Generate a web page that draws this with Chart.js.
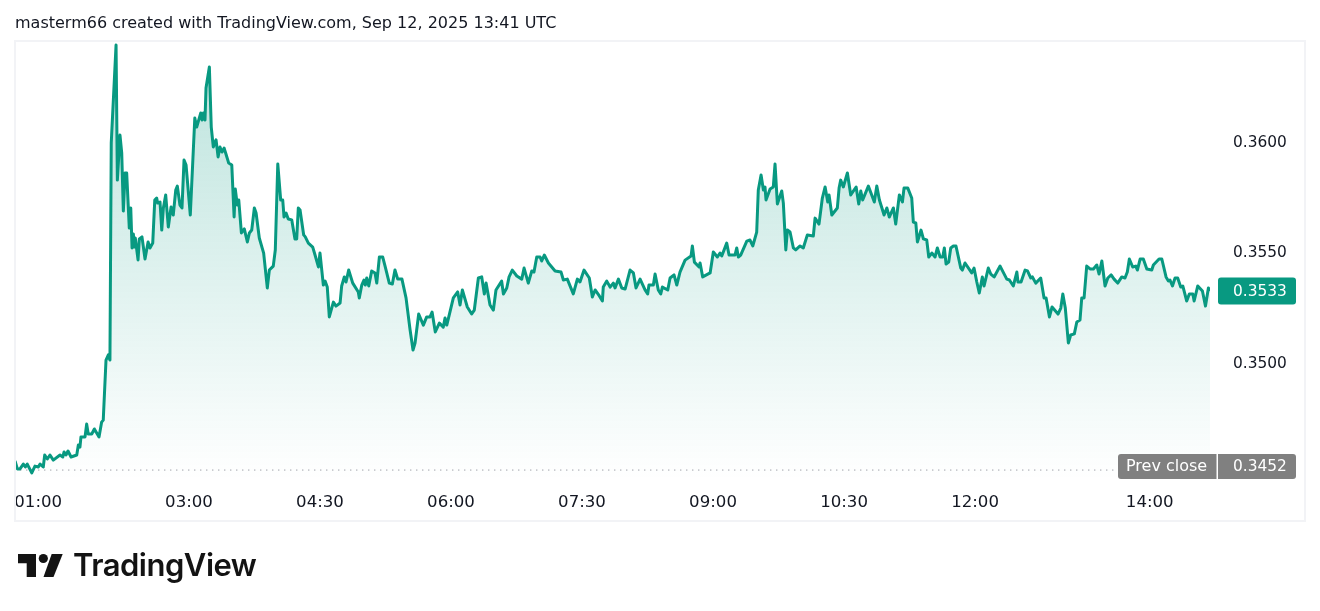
<!DOCTYPE html>
<html><head><meta charset="utf-8"><title>TradingView chart</title>
<script src="https://cdn.jsdelivr.net/npm/chart.js@4/dist/chart.umd.min.js"></script>
<style>
html,body{margin:0;padding:0;background:#fff;overflow:hidden;width:1320px;height:611px}
#c{position:absolute;left:0;top:0}
#head{position:absolute;left:15px;top:13px;font:16px "DejaVu Sans";color:#131722;white-space:nowrap}
#frame{position:absolute;left:14px;top:40px;width:1288px;height:478px;border:2px solid #f2f3f6;pointer-events:none}
#logo{position:absolute;left:0;top:540px}
#brand{position:absolute;left:73px;top:546px;font:600 31px Inter;letter-spacing:-.5px;color:#131313;white-space:nowrap}
</style></head><body>
<canvas id="c" width="1320" height="611"></canvas>
<div id="frame"></div>
<div id="head">masterm66 created with TradingView.com, Sep 12, 2025 13:41 UTC</div>
<svg id="logo" width="70" height="45" viewBox="0 540 70 45"><path fill="#131313" d="M18 554H36V577H26.7V563.3H18Z"/><circle fill="#131313" cx="43.3" cy="558.5" r="4.6"/><path fill="#131313" d="M51.7 554H62.7L53.5 577H43.5Z"/></svg>
<div id="brand">TradingView</div>
<script>
const minutes=[60.5,62.1,63.9,66.2,67.6,68.9,72.0,74.2,76.5,77.7,79.9,80.9,82.7,84.5,86.8,91.4,93.3,94.2,95.5,96.9,99.0,102.9,104.0,105.1,105.8,108.6,109.7,110.8,113.2,115.0,118.2,120.0,121.1,123.0,124.6,125.7,126.6,129.9,130.8,132.6,133.8,134.9,136.1,137.2,139.0,140.0,140.9,141.8,142.4,143.1,145.0,145.9,147.7,149.8,151.9,153.2,155.1,156.5,157.8,158.5,160.1,161.3,162.4,164.0,165.8,167.7,169.2,170.9,172.0,173.8,175.2,176.6,178.0,180.9,184.0,185.3,188.1,189.0,189.9,191.0,191.7,194.0,195.3,196.7,198.6,200.0,201.3,202.7,204.1,205.4,207.3,209.4,211.0,211.8,213.2,214.2,216.0,218.0,220.1,221.5,223.1,224.9,226.1,228.3,231.3,233.8,235.2,237.9,239.3,241.0,243.0,244.4,245.3,246.7,248.2,250.6,252.8,254.0,255.1,256.3,258.8,259.9,262.0,265.0,266.6,268.9,270.0,272.3,273.5,275.0,276.4,279.2,281.0,283.8,284.9,286.7,287.9,289.7,292.5,296.3,297.0,298.7,300.2,301.1,302.1,303.5,305.5,307.8,309.0,310.8,313.1,314.7,317.6,319.7,321.5,323.4,326.3,329.1,331.9,333.9,335.3,337.8,341.0,343.3,345.6,347.0,349.2,352.0,354.7,355.9,357.1,358.8,361.6,364.6,366.2,367.8,371.2,374.2,376.0,378.8,381.1,382.9,384.1,386.8,389.1,390.9,394.8,396.0,398.3,399.9,402.1,405.2,408.6,410.2,413.1,415.5,417.0,418.9,421.2,422.3,424.1,426.9,431.5,435.6,437.2,439.9,444.0,446.8,448.6,451.4,455.0,457.1,459.0,461.9,464.0,464.6,467.0,469.3,471.5,472.7,475.0,477.3,479.6,483.0,485.3,487.1,489.9,493.3,495.1,496.0,499.0,500.2,502.4,504.1,505.2,508.9,510.5,513.2,515.1,517.3,520.8,524.9,525.8,527.2,530.4,531.1,532.9,538.0,540.2,543.0,544.8,546.0,549.4,551.0,555.1,556.3,557.4,559.0,563.2,565.4,567.3,570.0,571.1,573.0,574.6,575.7,576.4,579.2,581.4,582.6,583.1,584.2,587.2,588.3,590.0,591.1,592.9,595.2,596.8,599.8,602.0,604.8,608.9,610.1,612.8,615.1,617.0,618.8,619.7,621.6,625.4,626.6,627.7,629.5,632.3,634.6,638.3,640.1,641.5,642.8,646.7,650.8,652.5,654.3,657.5,659.4,661.1,663.9,665.5,668.0,670.1,671.2,673.8,676.5,677.6,679.3,680.4,682.9,684.5,686.8,688.2,690.3,692.5,694.1,696.0,697.8,698.9,700.1,701.9,703.3,705.1,706.9,710.2,711.3,713.1,717.7,719.3,721.2,722.9,725.0,726.2,729.1,730.8,733.1,737.2,741.8,743.6,746.3,748.7,749.5,751.6,754.4,756.0,758.3,759.4,761.7,765.1,767.4,768.8,771.1,772.9,777.0,778.9,780.3,782.0,784.1,785.7,788.2,789.9,792.1,793.3,794.9,796.7,799.0,801.3,803.6,805.2,807.1,809.3,811.2,813.5,815.5,818.0,820.8,823.0,824.6,826.0,828.3,830.4,831.5,833.4,835.6,838.0,841.4,842.5,846.4,848.3,851.2,852.8,853.9,855.6,857.4,859.2,861.3,862.7,865.4,867.2,869.6,870.5,873.0,876.2,878.3,880.3,881.4];
const prices=[.34561,.34525,.34525,.34547,.34534,.34547,.34507,.34538,.34534,.34547,.34534,.34588,.34570,.34588,.34565,.34588,.34579,.34602,.34588,.34606,.34579,.34588,.34633,.34624,.34670,.34670,.34728,.34683,.34683,.34706,.34670,.34737,.34746,.35018,.35041,.35018,.36000,.36443,.35832,.36036,.35955,.35692,.35864,.35864,.35615,.35706,.35525,.35588,.35529,.35570,.35471,.35566,.35575,.35475,.35552,.35525,.35547,.35742,.35751,.35728,.35733,.35606,.35706,.35765,.35620,.35710,.35674,.35787,.35805,.35719,.35706,.35923,.35900,.35674,.36113,.36072,.36136,.36104,.36136,.36104,.36249,.36344,.36072,.35982,.36014,.35937,.35982,.35959,.35977,.35950,.35909,.35900,.35665,.35792,.35719,.35742,.35593,.35611,.35552,.35593,.35606,.35706,.35683,.35570,.35502,.35344,.35425,.35443,.35516,.35905,.35742,.35742,.35665,.35683,.35656,.35652,.35566,.35566,.35706,.35697,.35584,.35575,.35547,.35529,.35493,.35439,.35502,.35357,.35375,.35348,.35213,.35280,.35262,.35276,.35353,.35394,.35371,.35425,.35366,.35326,.35299,.35357,.35380,.35357,.35389,.35353,.35421,.35412,.35366,.35484,.35484,.35443,.35366,.35362,.35425,.35384,.35384,.35299,.35154,.35063,.35095,.35226,.35176,.35213,.35213,.35235,.35145,.35185,.35167,.35208,.35176,.35222,.35299,.35326,.35267,.35335,.35258,.35226,.35244,.35389,.35394,.35317,.35366,.35267,.35244,.35335,.35375,.35317,.35344,.35394,.35425,.35398,.35384,.35434,.35366,.35421,.35416,.35484,.35484,.35466,.35493,.35457,.35421,.35416,.35380,.35384,.35317,.35384,.35371,.35425,.35389,.35303,.35335,.35308,.35285,.35348,.35375,.35348,.35366,.35344,.35384,.35344,.35339,.35425,.35412,.35344,.35384,.35335,.35317,.35357,.35357,.35407,.35335,.35317,.35348,.35335,.35389,.35403,.35357,.35416,.35470,.35489,.35534,.35461,.35439,.35457,.35394,.35412,.35507,.35484,.35502,.35489,.35547,.35493,.35493,.35525,.35484,.35493,.35556,.35561,.35534,.35597,.35787,.35855,.35787,.35801,.35742,.35792,.35801,.35905,.35905,.35724,.35783,.35728,.35516,.35606,.35597,.35525,.35516,.35534,.35525,.35584,.35579,.35660,.35633,.35751,.35801,.35733,.35765,.35674,.35706,.35796,.35832,.35801,.35864,.35765,.35801,.35724,.35783,.35742,.35805,.35733,.35805,.35742,.35674,.35706,.35665,.35706,.35633,.35765,.35733,.35796,.35796,.35751,.35642,.35638,.35552,.35606,.35566,.35561,.35484,.35502,.35484,.35525,.35484,.35484,.35525,.35452,.35461,.35525,.35534,.35534,.35434,.35425,.35457,.35412,.35434,.35371,.35321,.35394,.35353,.35434,.35407,.35394,.35443,.35384,.35380,.35353,.35416,.35371,.35371,.35425,.35421,.35389,.35394,.35366,.35389,.35299,.35299,.35213,.35258,.35226,.35253,.35317,.35253,.35095,.35131,.35136,.35190,.35199,.35299,.35299,.35443,.35430,.35430,.35448,.35407,.35466,.35353,.35389,.35403,.35384,.35366,.35394,.35389,.35416,.35475,.35439,.35443,.35425,.35475,.35475,.35430,.35425,.35448,.35475,.35475,.35394,.35376,.35380,.35353,.35389,.35389,.35348,.35353,.35285,.35317,.35317,.35285,.35353,.35330,.35262,.35344,.35330];
const prevCloseSpan=[60,817];
const prevClose=0.3452;
const lastPrice=0.3533;
const yTicks=[0.35,0.355,0.36];
const xTickMinutes=[60,180,270,360,450,540,630,720,840,881.4];
const xTickLabels=["01:00","03:00","04:30","06:00","07:30","09:00","10:30","12:00","14:00",""];

const FONT='"DejaVu Sans"';
const badges={id:'badges',afterDatasetsDraw(ch){
  const g=ch.ctx,y=ch.scales.y;
  const box=(x,yy,w,h,col,r,txt,tx,fs)=>{g.fillStyle=col;g.beginPath();g.roundRect(x,yy,w,h,r);g.fill();
    g.fillStyle='#fff';g.font=fs+'px '+FONT;g.textAlign='left';g.textBaseline='middle';g.fillText(txt,tx,yy+h/2+.5);};
  const ly=y.getPixelForValue(lastPrice);
  box(1218,ly-13.5,78,27,'#089981',[3,3,3,3],lastPrice.toFixed(4),1233,15.4);
  const py=y.getPixelForValue(prevClose)-3.5;
  box(1118,py-12.5,98.5,25,'#808080',[3,0,0,3],'Prev close',1126,16);
  box(1218,py-12.5,78,25,'#808080',[0,3,3,0],prevClose.toFixed(4),1233,15.4);
}};
new Chart(document.getElementById('c'),{type:'line',
 data:{datasets:[
  {data:prevCloseSpan.map(m=>({x:m,y:prevClose})),borderColor:'#787b86',borderWidth:1,borderDash:[1,5],pointRadius:0,fill:false,order:2},
  {data:minutes.map((m,i)=>({x:m,y:prices[i]})),borderColor:'#089981',borderWidth:3,borderJoinStyle:'round',pointRadius:0,tension:0,fill:'start',order:1,
   backgroundColor(ctx){const a=ctx.chart.chartArea;if(!a)return 'rgba(8,153,129,.25)';
     const gr=ctx.chart.ctx.createLinearGradient(0,a.top,0,a.bottom);
     gr.addColorStop(0,'rgba(8,153,129,.28)');gr.addColorStop(1,'rgba(8,153,129,0)');return gr;}}
 ]},
 options:{responsive:false,animation:false,devicePixelRatio:1,
  layout:{padding:{left:14.3,right:15,top:42,bottom:91}},
  plugins:{legend:{display:false},tooltip:{enabled:false},title:{display:false}},
  scales:{
   x:{type:'linear',min:60,max:881.4,grid:{display:false,drawTicks:false},border:{display:false},
     afterBuildTicks(s){s.ticks=xTickMinutes.map(v=>({value:v}));},
     afterFit(s){s.height=40;},
     ticks:{autoSkip:false,maxRotation:0,align:'inner',padding:12.5,color:'#131722',font:{family:FONT,size:16.6},
       callback(v){return xTickLabels[xTickMinutes.indexOf(v)];}}},
   y:{position:'right',min:0.34475,max:0.36457,grid:{display:false,drawTicks:false},border:{display:false},
     afterBuildTicks(s){s.ticks=yTicks.map(v=>({value:v}));},
     afterFit(s){s.width=95;},
     ticks:{padding:23,color:'#131722',font:{family:FONT,size:15.4},callback(v){return v.toFixed(4);}}}
  }},
 plugins:[badges]});
</script></body></html>
